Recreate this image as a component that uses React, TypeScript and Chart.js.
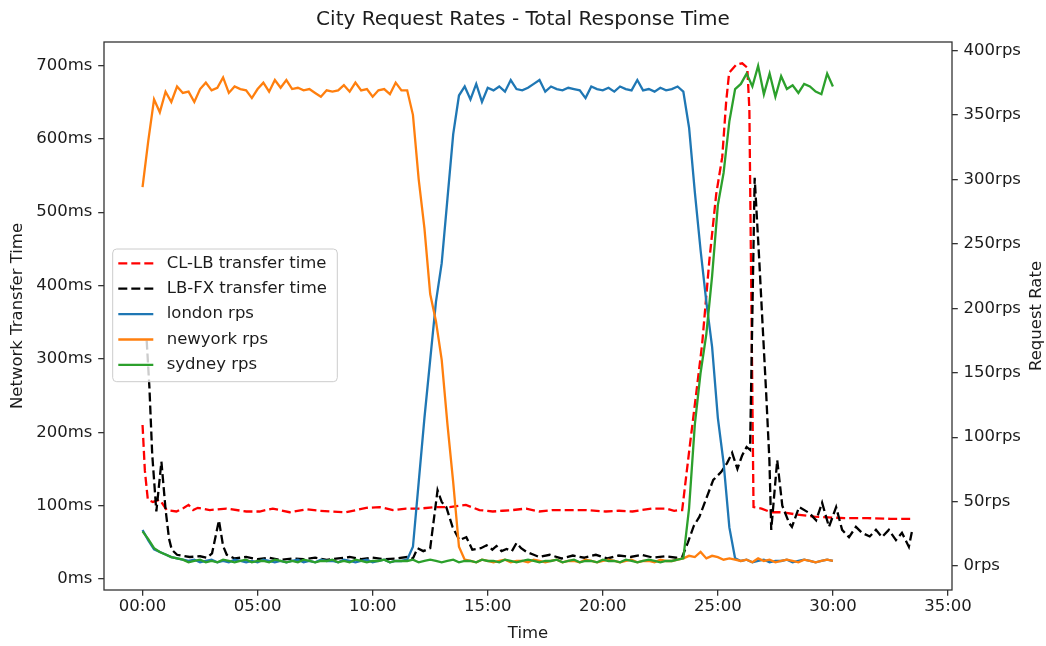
import React, { useEffect, useRef } from 'react';
import { Chart, registerables } from 'chart.js';

Chart.register(...registerables);

// Request rates, one sample per quarter minute (0:00 .. 30:00)
const rpsStepMinutes = 0.25;

const londonRps = [
  28, 20, 13, 11, 9, 7, 6, 5,
  4, 5, 3, 4, 5, 3, 4, 3, 5, 4, 3, 4, 3, 5, 4, 3, 4, 3, 4, 5, 3, 4, 3, 5, 4, 4, 3, 5, 4, 3, 4, 5, 3, 4, 5, 3, 4, 4,
  5, 15, 65, 115, 160, 205, 235, 285, 335, 365, 372,
  362, 374, 360, 371, 369, 372, 368, 377, 370, 369, 371, 374, 377, 368, 372, 370, 369, 371, 370, 369, 363, 372, 370, 369, 371, 368, 372, 370, 369, 377, 369, 370, 368, 371, 369, 370,
  372, 368, 340, 290, 245, 205, 170, 115, 80, 30, 6,
  4, 5, 3, 4, 5, 3, 4, 4, 5, 3, 4, 5, 4, 3, 4, 5, 4,
];

const newyorkRps = [
  294, 330, 362, 352, 368, 360, 372, 367,
  368, 360, 370, 375, 369, 371, 379, 367, 372, 370, 369, 363, 370, 375, 368, 377, 371, 377, 370, 371, 369, 370, 367, 364, 369, 368, 369, 373, 368, 375, 369, 370, 364, 369, 370, 366, 375, 369,
  369, 350, 300, 262, 211, 190, 160, 110, 65, 15, 5,
  4, 3, 5, 4, 3, 4, 5, 3, 4, 4, 3, 5, 4, 3, 4, 5, 3, 4, 4, 3, 5, 4, 3, 4, 5, 4, 3, 4, 5, 3, 4, 4, 3, 5, 4, 4,
  5, 6, 8, 7, 11, 6, 8, 7, 5, 6, 5,
  4, 5, 3, 6, 4, 5, 3, 4, 5, 4, 3, 5, 4, 3, 4, 5, 4,
];

const sydneyRps = [
  27, 21, 14, 11, 9, 7, 6, 5,
  3, 4, 5, 3, 4, 3, 5, 4, 3, 4, 5, 3, 4, 4, 3, 5, 4, 3, 4, 3, 5, 4, 3, 4, 4, 5, 3, 4, 3, 5, 4, 3, 4, 4, 5, 3, 4, 4,
  4, 5, 3, 4, 5, 4, 3, 4, 5, 3, 4,
  4, 3, 5, 4, 4, 3, 5, 4, 3, 4, 5, 4, 3, 4, 4, 5, 3, 4, 5, 3, 4, 4, 3, 5, 4, 4, 3, 5, 4, 3, 4, 5, 4, 3, 4, 4,
  5, 6, 45, 110, 150, 180, 225, 280, 305, 345, 370,
  374, 382, 372, 388, 366, 382, 364, 380, 370, 373, 367, 374, 372, 368, 366, 382, 372,
];

const rpsMinutes = londonRps.map((_, i) => i * rpsStepMinutes);

// Client -> load balancer transfer time
const clLbMinutes = [
  0, 0.1, 0.23, 0.45, 0.75, 1.05, 1.47, 1.8, 2.0, 2.2,
  2.4, 2.92, 3.65, 4.51, 5.09, 5.66, 6.39, 7.12, 7.7, 8.27,
  8.85, 9.3, 9.72, 10.3, 10.88, 11.45, 12.04, 12.76, 13.34, 14.05,
  14.64, 15.22, 15.65, 16.09, 16.67, 17.24, 17.8, 18.4, 19.27, 20.13,
  20.7, 21.29, 21.7, 22.16, 22.74, 23.1, 23.32, 23.45, 23.76, 24.06,
  24.32, 24.63, 24.93, 25.19, 25.36, 25.49, 25.8, 26.06, 26.28, 26.37,
  26.55, 26.9, 27.3, 27.8, 28.4, 29.2, 29.8, 30.5, 31.5, 32.5, 33.43,
];
const clLbMs = [
  210, 148, 108, 105, 108, 94, 92, 97, 101, 94,
  97, 94, 96, 92, 92, 96, 91, 95, 93, 92,
  91, 94, 97, 98, 94, 96, 96, 98, 98, 101,
  94, 92, 93, 94, 96, 92, 94, 94, 94, 92,
  93, 92, 94, 96, 96, 93, 94, 94, 176, 253,
  321, 434, 525, 575, 650, 690, 701, 703, 697, 640,
  98, 96, 91, 91, 88, 85, 84, 83, 83, 82, 82,
];

// Load balancer -> backend transfer time
const lbFxMinutes = [
  0.18, 0.3, 0.42, 0.6, 0.82, 1.0, 1.15, 1.27, 1.5, 2.05,
  2.5, 2.8, 3.02, 3.32, 3.5, 3.66, 4.0, 4.5, 5.0, 5.5,
  6.0, 6.5, 7.0, 7.5, 8.0, 8.5, 9.0, 9.5, 10.0, 10.5,
  11.0, 11.5, 11.75, 11.95, 12.2, 12.5, 12.82, 13.0, 13.2, 13.47,
  13.77, 14.07, 14.33, 14.7, 14.95, 15.2, 15.38, 15.6, 15.82, 16.05,
  16.25, 16.45, 16.68, 17.0, 17.24, 17.7, 18.2, 18.7, 19.2, 19.7,
  20.2, 20.7, 21.2, 21.7, 22.2, 22.7, 23.2, 23.45, 23.7, 23.95,
  24.2, 24.5, 24.8, 25.15, 25.4, 25.62, 25.85, 26.05, 26.25, 26.4,
  26.6, 26.8, 26.95, 27.1, 27.24, 27.32, 27.58, 27.8, 28.1, 28.22,
  28.53, 28.97, 29.27, 29.53, 29.83, 30.14, 30.4, 30.7, 31.0, 31.26,
  31.6, 31.87, 32.13, 32.43, 32.74, 33.0, 33.3, 33.43,
];
const lbFxMs = [
  325, 260, 170, 92, 160, 95, 55, 40, 33, 30,
  31, 29, 35, 80, 45, 33, 28, 30, 27, 29,
  26, 28, 27, 29, 26, 28, 30, 27, 29, 27,
  28, 30, 28, 42, 38, 42, 121, 105, 98, 71,
  53, 57, 40, 42, 46, 40, 45, 38, 41, 38,
  49, 42, 37, 33, 30, 33, 28, 32, 29, 33,
  28, 32, 30, 33, 29, 31, 29, 30, 50, 72,
  85, 110, 135, 146, 158, 172, 150, 168, 180, 176,
  547, 434, 343, 253, 162, 67, 162, 100, 76, 71,
  98, 90, 80, 104, 71, 98, 67, 57, 71, 63,
  58, 67, 57, 67, 53, 63, 44, 64,
];

const timeTicks = [0, 5, 10, 15, 20, 25, 30, 35];
const msTicks = [0, 100, 200, 300, 400, 500, 600, 700];
const rpsTicks = [0, 50, 100, 150, 200, 250, 300, 350, 400];

const FAMILY = '"DejaVu Sans", sans-serif';
const TEXT = '#1c1c1c';
const SPINE = '#333333';

const toPoints = (xs: number[], ys: number[]) => xs.map((x, i) => ({ x, y: ys[i] }));
const fmtTime = (v: number) => `${String(Math.round(v)).padStart(2, '0')}:00`;

const axesAndLegend = {
  id: 'axesAndLegend',
  afterDraw(chart: any) {
    const { ctx, chartArea } = chart;
    const { left, top, right, bottom } = chartArea;
    ctx.save();

    // axes frame
    ctx.strokeStyle = SPINE;
    ctx.lineWidth = 1.3;
    ctx.setLineDash([]);
    ctx.strokeRect(left, top, right - left, bottom - top);

    // right axis title (reads bottom to top)
    ctx.fillStyle = TEXT;
    ctx.font = `16.5px ${FAMILY}`;
    ctx.textAlign = 'center';
    ctx.textBaseline = 'middle';
    ctx.save();
    ctx.translate(chart.width - 9, (top + bottom) / 2);
    ctx.rotate(-Math.PI / 2);
    ctx.fillText('Request Rate', 0, 0);
    ctx.restore();

    // legend
    const bx = left + 8.7;
    const by = top + 207;
    const bw = 224.6;
    const bh = 132.7;
    ctx.beginPath();
    ctx.roundRect(bx, by, bw, bh, 4);
    ctx.fillStyle = 'rgba(255,255,255,0.8)';
    ctx.fill();
    ctx.strokeStyle = '#cccccc';
    ctx.lineWidth = 1;
    ctx.stroke();

    const datasets = chart.data.datasets;
    datasets.forEach((ds: any, i: number) => {
      const cy = by + 14.3 + i * 25.4;
      ctx.beginPath();
      ctx.strokeStyle = ds.borderColor;
      ctx.lineWidth = ds.borderWidth;
      ctx.setLineDash(ds.borderDash || []);
      ctx.moveTo(bx + 5.6, cy);
      ctx.lineTo(bx + 40.6, cy);
      ctx.stroke();
      ctx.setLineDash([]);
      ctx.fillStyle = TEXT;
      ctx.textAlign = 'left';
      ctx.textBaseline = 'middle';
      ctx.font = `16.5px ${FAMILY}`;
      ctx.fillText(ds.label, bx + 54, cy);
    });

    ctx.restore();
  },
};

export default function App() {
  const canvasRef = useRef<HTMLCanvasElement>(null);

  useEffect(() => {
    if (!canvasRef.current) return;
    const tickFont = { family: FAMILY, size: 16.5 };
    const gridCfg = {
      drawOnChartArea: false,
      drawTicks: true,
      tickLength: 5.8,
      color: SPINE,
      lineWidth: 1.3,
    };

    const chart = new Chart(canvasRef.current, {
      type: 'line',
      data: {
        datasets: [
          {
            label: 'CL-LB transfer time',
            data: toPoints(clLbMinutes, clLbMs),
            yAxisID: 'yMs',
            borderColor: '#ff0000',
            borderWidth: 2.3,
            borderDash: [9, 4],
            pointRadius: 0,
            tension: 0,
            order: 4,
          },
          {
            label: 'LB-FX transfer time',
            data: toPoints(lbFxMinutes, lbFxMs),
            yAxisID: 'yMs',
            borderColor: '#000000',
            borderWidth: 2.3,
            borderDash: [9, 4],
            pointRadius: 0,
            tension: 0,
            order: 3,
          },
          {
            label: 'london rps',
            data: toPoints(rpsMinutes, londonRps),
            yAxisID: 'yRps',
            borderColor: '#1f77b4',
            borderWidth: 2.3,
            pointRadius: 0,
            tension: 0,
            order: 2,
          },
          {
            label: 'newyork rps',
            data: toPoints(rpsMinutes, newyorkRps),
            yAxisID: 'yRps',
            borderColor: '#ff7f0e',
            borderWidth: 2.3,
            pointRadius: 0,
            tension: 0,
            order: 1,
          },
          {
            label: 'sydney rps',
            data: toPoints(rpsMinutes, sydneyRps),
            yAxisID: 'yRps',
            borderColor: '#2ca02c',
            borderWidth: 2.3,
            pointRadius: 0,
            tension: 0,
            order: 0,
          },
        ],
      },
      options: {
        animation: false,
        responsive: true,
        maintainAspectRatio: false,
        devicePixelRatio: 1,
        layout: { padding: 0 },
        plugins: {
          legend: { display: false },
          tooltip: { enabled: false },
          title: {
            display: true,
            text: 'City Request Rates - Total Response Time',
            color: TEXT,
            font: { family: FAMILY, size: 20, weight: 'normal' },
            padding: { top: 8, bottom: 10 },
          },
        },
        scales: {
          x: {
            type: 'linear',
            min: -1.675,
            max: 35.175,
            afterBuildTicks: (s: any) => {
              s.ticks = timeTicks.map((v) => ({ value: v }));
            },
            afterFit: (s: any) => {
              s.height = 56;
            },
            ticks: {
              color: TEXT,
              font: tickFont,
              padding: 1.5,
              maxRotation: 0,
              autoSkip: false,
              callback: (v: any) => fmtTime(Number(v)),
            },
            grid: gridCfg,
            border: { display: false },
            title: {
              display: true,
              text: 'Time',
              color: TEXT,
              font: tickFont,
              padding: { top: 0, bottom: 2 },
            },
          },
          yMs: {
            type: 'linear',
            position: 'left',
            min: -15,
            max: 732,
            afterBuildTicks: (s: any) => {
              s.ticks = msTicks.map((v) => ({ value: v }));
            },
            afterFit: (s: any) => {
              s.width = 104;
            },
            ticks: {
              color: TEXT,
              font: tickFont,
              padding: 5.8,
              autoSkip: false,
              callback: (v: any) => `${v}ms`,
            },
            grid: gridCfg,
            border: { display: false },
            title: {
              display: true,
              text: 'Network Transfer Time',
              color: TEXT,
              font: tickFont,
              padding: { top: 8, bottom: 0 },
            },
          },
          yRps: {
            type: 'linear',
            position: 'right',
            min: -18.5,
            max: 406.5,
            afterBuildTicks: (s: any) => {
              s.ticks = rpsTicks.map((v) => ({ value: v }));
            },
            afterFit: (s: any) => {
              s.width = 94;
            },
            ticks: {
              color: TEXT,
              font: tickFont,
              padding: 5.8,
              autoSkip: false,
              callback: (v: any) => `${v}rps`,
            },
            grid: gridCfg,
            border: { display: false },
          },
        },
      },
      plugins: [axesAndLegend],
    });

    return () => chart.destroy();
  }, []);

  return (
    <div style={{ position: 'fixed', left: 0, top: 0, width: 1046, height: 646, background: '#ffffff' }}>
      <canvas ref={canvasRef} />
    </div>
  );
}
